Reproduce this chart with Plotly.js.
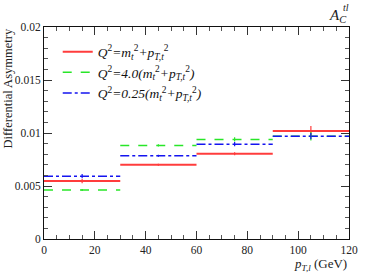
<!DOCTYPE html>
<html><head><meta charset="utf-8">
<script src="https://cdn.plot.ly/plotly-3.0.1.min.js"></script>
<style>body{margin:0;padding:0;background:#fff}</style>
</head><body>
<div id="plot" style="width:382px;height:273px"></div>
<script>
var binLo = [0, 30, 60, 90];
var binHi = [30, 60, 90, 120];
var binCenter = [15, 45, 75, 105];
var redVals = [0.00546, 0.0070, 0.00804, 0.0102];
var redErr = [0.0002, 0.0001, 0.00015, 0.00045];
var greenVals = [0.00462, 0.00883, 0.00939, 0.0097];
var greenErr = [0.0001, 0.0001, 0.0002, 0.0004];
var blueVals = [0.00593, 0.00785, 0.00895, 0.0097];
var blueErr = [0.0002, 0.0001, 0.0002, 0.0003];
var seriesNames = [
  '<i>Q</i><sup>2</sup><i>=m</i><sub><i>t</i></sub><sup>2</sup><i>+p</i><sub><i>T,t</i></sub><sup>2</sup>',
  '<i>Q</i><sup>2</sup><i>=4.0(m</i><sub><i>t</i></sub><sup>2</sup><i>+p</i><sub><i>T,t</i></sub><sup>2</sup><i>)</i>',
  '<i>Q</i><sup>2</sup><i>=0.25(m</i><sub><i>t</i></sub><sup>2</sup><i>+p</i><sub><i>T,t</i></sub><sup>2</sup><i>)</i>'
];
var colors = ['rgb(255,60,60)', 'rgb(40,230,40)', 'rgb(20,20,240)'];
var dashes = ['solid', 'dash', 'dashdot'];
var widths = [2, 1.5, 1.5];

function stepTrace(vals, i) {
  var xs = [], ys = [];
  for (var k = 0; k < vals.length; k++) {
    xs.push(binLo[k], binHi[k], null);
    ys.push(vals[k], vals[k], null);
  }
  return {x: xs, y: ys, type: 'scatter', mode: 'lines', name: seriesNames[i],
    line: {color: colors[i], width: widths[i], dash: dashes[i]}, showlegend: true};
}
function errTrace(vals, errs, i) {
  return {x: binCenter, y: vals, type: 'scatter', mode: 'markers',
    marker: {size: 1, color: colors[i]}, showlegend: false, hoverinfo: 'skip',
    error_y: {type: 'data', array: errs, visible: true, color: colors[i], thickness: 1.2, width: 0}};
}
var data = [
  stepTrace(redVals, 0), stepTrace(greenVals, 1), stepTrace(blueVals, 2),
  errTrace(redVals, redErr, 0), errTrace(greenVals, greenErr, 1), errTrace(blueVals, blueErr, 2)
];
var axFont = {family: 'Liberation Serif, serif', size: 11.5, color: '#222'};
var layout = {
  width: 382, height: 273,
  margin: {l: 44, r: 33, t: 27, b: 34},
  paper_bgcolor: '#fff', plot_bgcolor: '#fff',
  showlegend: true,
  legend: {x: 0.045, y: 0.955, xanchor: 'left', yanchor: 'top', bgcolor: 'rgba(0,0,0,0)',
    font: {family: 'Liberation Serif, serif', size: 13.5, color: '#111'}, tracegroupgap: 0},
  xaxis: {range: [0, 120], dtick: 20, ticks: 'inside', ticklen: 8, tickcolor: '#333',
    showline: true, linecolor: '#111', linewidth: 1, mirror: 'ticks', showgrid: false, zeroline: false,
    minor: {dtick: 5, ticks: 'inside', ticklen: 4, tickcolor: '#555', showgrid: false},
    tickfont: axFont},
  yaxis: {range: [0, 0.02], dtick: 0.005, ticks: 'inside', ticklen: 8, tickcolor: '#333',
    showline: true, linecolor: '#111', linewidth: 1, mirror: 'ticks', showgrid: false, zeroline: false,
    minor: {dtick: 0.001, ticks: 'inside', ticklen: 4, tickcolor: '#555', showgrid: false},
    tickfont: axFont},
  annotations: [
    {text: 'Differential Asymmetry', xref: 'paper', yref: 'paper', x: -0.115, y: 0.71,
      textangle: -90, showarrow: false, xanchor: 'center', yanchor: 'middle',
      font: {family: 'Liberation Serif, serif', size: 12.5, color: '#222'}},
    {text: '<i>p</i><sub><i>T,l</i></sub> (GeV)', xref: 'paper', yref: 'paper', x: 1, y: -0.072,
      showarrow: false, xanchor: 'right', yanchor: 'top',
      font: {family: 'Liberation Serif, serif', size: 13, color: '#222'}},
    {text: '<i>A</i><sub><i>C</i></sub>', xref: 'paper', yref: 'paper', x: 1.0, y: 1.0,
      showarrow: false, xanchor: 'right', yanchor: 'bottom',
      font: {family: 'Liberation Serif, serif', size: 15, color: '#222'}},
    {text: '<i>tl</i>', xref: 'paper', yref: 'paper', x: 1.005, y: 1.055,
      showarrow: false, xanchor: 'right', yanchor: 'bottom',
      font: {family: 'Liberation Serif, serif', size: 10, color: '#222'}}
  ]
};
Plotly.newPlot('plot', data, layout, {displayModeBar: false, staticPlot: true});
</script>
</body></html>
